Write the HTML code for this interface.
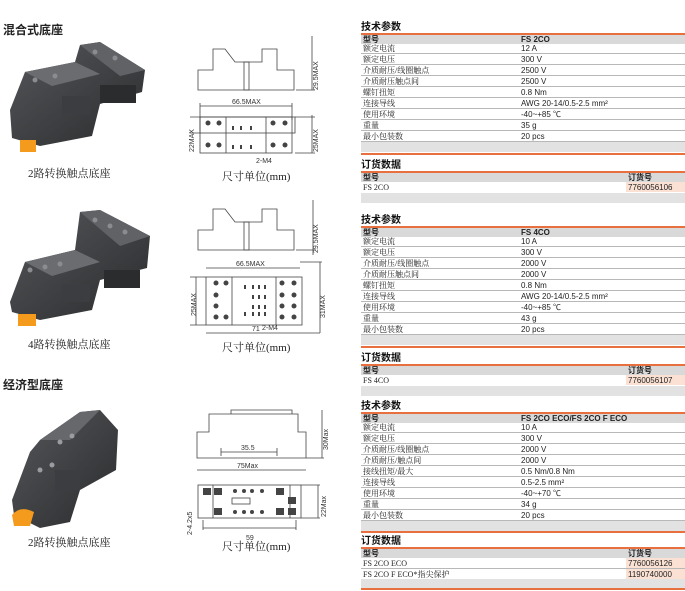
<!DOCTYPE html>
<html><head><meta charset="utf-8"><style>
*{margin:0;padding:0;box-sizing:border-box}
body{width:685px;height:591px;background:#fff;position:relative;overflow:hidden;font-family:"Liberation Sans","Noto Sans CJK SC",sans-serif;color:#222}
.a{position:absolute}
.t{position:absolute;left:361px;font-size:10px;font-weight:bold;line-height:10px;color:#111}
.ln{position:absolute;left:361px;width:324px;height:2px;background:#e8703f}
.r{position:absolute;left:361px;width:324px;height:11px;border-bottom:1px solid #b8b8b8;font-size:8px;line-height:11px}
.r span{position:absolute;left:2px;font-family:"Liberation Serif","Noto Serif CJK SC",serif}
.r b{position:absolute;left:160px;font-weight:normal}
.h{background:#d9d9d9;height:9px;border:none;font-weight:bold;line-height:9px}
.h span{font-family:"Liberation Sans","Noto Sans CJK SC",sans-serif}
.h b{font-weight:bold}
.g{position:absolute;left:361px;width:324px;height:10px;background:#e2e2e2}
.o b{left:267px}
.o i{position:absolute;left:265px;width:59px;top:0;height:10px;background:#fbe1d3}
.cap{position:absolute;font-family:"Liberation Serif","Noto Serif CJK SC",serif;font-size:11px}
.sec{position:absolute;left:3px;font-size:12px;font-weight:bold}
</style></head><body>

<div class="sec" style="top:21px">混合式底座</div>
<div class="sec" style="top:376px">经济型底座</div>

<svg class="a" style="left:0;top:0" width="360" height="591">
<defs>
<linearGradient id="gr" x1="0" y1="0" x2="1" y2="1"><stop offset="0" stop-color="#55575a"/><stop offset="1" stop-color="#2a2b2d"/></linearGradient>
</defs>
<g id="p1">
<path d="M10 110 L25 72 L75 62 L80 45 L100 42 L145 70 L142 92 L100 104 L92 136 L40 146 L12 138Z" fill="url(#gr)"/>
<path d="M25 72 L75 62 L100 74 L52 86Z" fill="#6a6c70"/>
<path d="M80 45 L100 42 L145 70 L120 76Z" fill="#606266"/>
<rect x="62" y="96" width="28" height="18" fill="#3c3d40"/>
<rect x="100" y="85" width="36" height="18" fill="#2b2c2e"/>
<g fill="#8a8c90"><circle cx="35" cy="80" r="2.5"/><circle cx="55" cy="76" r="2.5"/><circle cx="95" cy="52" r="2.5"/><circle cx="115" cy="58" r="2.5"/></g>
</g>
<g transform="translate(0 192)">
<path d="M10 110 L25 70 L75 58 L80 20 L100 18 L150 44 L147 76 L100 88 L92 118 L40 128 L12 120Z" fill="url(#gr)"/>
<path d="M25 70 L75 58 L100 70 L52 84Z" fill="#6a6c70"/>
<path d="M80 20 L100 18 L150 44 L120 54Z" fill="#606266"/>
<rect x="62" y="92" width="28" height="18" fill="#3c3d40"/>
<rect x="104" y="78" width="36" height="18" fill="#2b2c2e"/>
<g fill="#8a8c90"><circle cx="30" cy="78" r="2.5"/><circle cx="45" cy="75" r="2.5"/><circle cx="60" cy="72" r="2.5"/><circle cx="95" cy="28" r="2.5"/><circle cx="110" cy="34" r="2.5"/><circle cx="125" cy="40" r="2.5"/></g>
</g>
<path d="M12 500 L30 452 L40 440 L80 412 L100 410 L118 430 L116 470 L80 490 L70 522 L40 528 L14 515Z" fill="url(#gr)"/>
<path d="M40 440 L80 412 L100 410 L70 440Z" fill="#66686c"/>
<rect x="55" y="470" width="25" height="20" fill="#3c3d40"/>
<g fill="#9a9ca0"><circle cx="40" cy="470" r="2.5"/><circle cx="52" cy="465" r="2.5"/><circle cx="60" cy="442" r="2.5"/><circle cx="72" cy="436" r="2.5"/></g>
<g fill="#f49a1c"><rect x="20" y="140" width="16" height="12"/><rect x="18" y="314" width="18" height="12"/><path d="M12 515 Q20 505 34 512 L30 526 L14 526Z"/></g>
<g stroke="#444" stroke-width="0.8" fill="none">
<g id="d1t">
<path d="M198 70 H213 V49 H225 L235 62 H262 V49 H277 V70 H294 V90 H198Z"/>
<rect x="244" y="62" width="5" height="28"/>
</g>
<path d="M312 36 V90 M296 90 H315"/>
<rect x="200" y="117" width="95" height="16"/>
<path d="M200 106 H292 M200 103 V120 M292 103 V120"/>
<path d="M190 117 H200 M190 133 H200 M312 115 V153 M295 117 H315 M295 153 H315"/>
<rect x="200" y="117" width="92" height="36"/>
<path d="M226 117 V153 M266 117 V153"/>
<g fill="#444" stroke="none"><circle cx="208" cy="123" r="2.5"/><circle cx="219" cy="123" r="2.5"/><circle cx="208" cy="145" r="2.5"/><circle cx="219" cy="145" r="2.5"/><circle cx="273" cy="123" r="2.5"/><circle cx="285" cy="123" r="2.5"/><circle cx="273" cy="145" r="2.5"/><circle cx="285" cy="145" r="2.5"/>
<rect x="232" y="126" width="2" height="4"/><rect x="240" y="126" width="2" height="4"/><rect x="250" y="126" width="2" height="4"/><rect x="232" y="145" width="2" height="4"/><rect x="240" y="145" width="2" height="4"/><rect x="250" y="145" width="2" height="4"/></g>
<use href="#d1t" transform="translate(0 160)"/>
<path d="M313 200 V255 M296 250 H316"/>
<rect x="206" y="277" width="96" height="48"/>
<path d="M206 268 H300 M206 333 H320 M196 277 V325 M190 277 H206 M190 325 H206 M320 262 V333 M300 262 H322"/>
<path d="M232 277 V325 M276 277 V325"/>
<g fill="#444" stroke="none"><circle cx="216" cy="283" r="2.5"/><circle cx="226" cy="283" r="2.5"/><circle cx="216" cy="295" r="2.5"/><circle cx="216" cy="306" r="2.5"/><circle cx="216" cy="317" r="2.5"/><circle cx="226" cy="317" r="2.5"/><circle cx="282" cy="283" r="2.5"/><circle cx="294" cy="283" r="2.5"/><circle cx="282" cy="295" r="2.5"/><circle cx="294" cy="295" r="2.5"/><circle cx="282" cy="306" r="2.5"/><circle cx="294" cy="306" r="2.5"/><circle cx="282" cy="317" r="2.5"/><circle cx="294" cy="317" r="2.5"/>
<rect x="244" y="285" width="2" height="4"/><rect x="252" y="285" width="2" height="4"/><rect x="258" y="285" width="2" height="4"/><rect x="264" y="285" width="2" height="4"/><rect x="252" y="295" width="2" height="4"/><rect x="258" y="295" width="2" height="4"/><rect x="264" y="295" width="2" height="4"/><rect x="252" y="305" width="2" height="4"/><rect x="258" y="305" width="2" height="4"/><rect x="264" y="305" width="2" height="4"/><rect x="244" y="312" width="2" height="4"/><rect x="252" y="312" width="2" height="4"/><rect x="258" y="312" width="2" height="4"/><rect x="264" y="312" width="2" height="4"/></g>
<path d="M197 458 V432 H209 V414 H298 V432 H306 V458 Z"/>
<path d="M231 414 V410 H292 V414 M322 410 V458 M306 458 H324"/>
<path d="M221 452 H277 M221 448 V456 M277 448 V456 M197 470 H306"/>
<rect x="198" y="485" width="103" height="33"/>
<path d="M213 485 V518 M290 485 V518 M318 485 V518 M301 485 H320 M301 518 H320 M203 528 H296 M203 520 V530 M296 520 V530"/>
<g fill="#444" stroke="none"><rect x="203" y="488" width="8" height="7"/><rect x="214" y="488" width="8" height="7"/><rect x="214" y="508" width="8" height="7"/><rect x="276" y="488" width="8" height="7"/><rect x="288" y="497" width="8" height="7"/><rect x="276" y="508" width="8" height="7"/><rect x="288" y="508" width="8" height="7"/>
<circle cx="235" cy="491" r="2"/><circle cx="244" cy="491" r="2"/><circle cx="252" cy="491" r="2"/><circle cx="262" cy="491" r="2"/><circle cx="235" cy="512" r="2"/><circle cx="244" cy="512" r="2"/><circle cx="252" cy="512" r="2"/><circle cx="262" cy="512" r="2"/></g>
<rect x="232" y="498" width="18" height="6"/>
</g>
<g font-family="Liberation Sans" font-size="7" fill="#333">
<text x="232" y="104">66.5MAX</text><text x="256" y="163">2-M4</text>
<text x="236" y="266">66.5MAX</text><text x="262" y="330">2-M4</text><text x="252" y="331">71</text>
<text x="241" y="450">35.5</text><text x="237" y="468">75Max</text><text x="246" y="540">59</text>
<text transform="translate(318 90) rotate(-90)">29.5MAX</text>
<text transform="translate(194 152) rotate(-90)">22MAX</text>
<text transform="translate(318 152) rotate(-90)">25MAX</text>
<text transform="translate(318 253) rotate(-90)">29.5MAX</text>
<text transform="translate(196 316) rotate(-90)">25MAX</text>
<text transform="translate(325 318) rotate(-90)">31MAX</text>
<text transform="translate(328 450) rotate(-90)">30Max</text>
<text transform="translate(326 517) rotate(-90)">22Max</text>
<text transform="translate(192 535) rotate(-90)">2-4.2x5</text>
</g>
</svg>
<div class="cap" style="left:28px;top:165px">2路转换触点底座</div>
<div class="cap" style="left:28px;top:336px">4路转换触点底座</div>
<div class="cap" style="left:28px;top:534px">2路转换触点底座</div>
<div class="cap" style="left:222px;top:168px">尺寸单位(mm)</div>
<div class="cap" style="left:222px;top:339px">尺寸单位(mm)</div>
<div class="cap" style="left:222px;top:538px">尺寸单位(mm)</div>

<div class="t" style="top:23px">技术参数</div><div class="ln" style="top:33px"></div>
<div class="r h" style="top:35px"><span>型号</span><b>FS 2CO</b></div>
<div class="r" style="top:43px"><span>额定电流</span><b>12 A</b></div>
<div class="r" style="top:54px"><span>额定电压</span><b>300 V</b></div>
<div class="r" style="top:65px"><span>介质耐压/线圈触点</span><b>2500 V</b></div>
<div class="r" style="top:76px"><span>介质耐压触点间</span><b>2500 V</b></div>
<div class="r" style="top:87px"><span>螺钉扭矩</span><b>0.8 Nm</b></div>
<div class="r" style="top:98px"><span>连接导线</span><b>AWG 20-14/0.5-2.5 mm²</b></div>
<div class="r" style="top:109px"><span>使用环境</span><b>-40~+85 ℃</b></div>
<div class="r" style="top:120px"><span>重量</span><b>35 g</b></div>
<div class="r" style="top:131px"><span>最小包装数</span><b>20 pcs</b></div>
<div class="g" style="top:142px"></div><div class="ln" style="top:153px"></div>
<div class="t" style="top:161px">订货数据</div><div class="ln" style="top:171px"></div>
<div class="r h o" style="top:173px"><span>型号</span><b>订货号</b></div>
<div class="r o" style="top:182px;border:none"><span>FS 2CO</span><i></i><b>7760056106</b></div>
<div class="g" style="top:193px"></div>

<div class="t" style="top:216px">技术参数</div><div class="ln" style="top:226px"></div>
<div class="r h" style="top:228px"><span>型号</span><b>FS 4CO</b></div>
<div class="r" style="top:236px"><span>额定电流</span><b>10 A</b></div>
<div class="r" style="top:247px"><span>额定电压</span><b>300 V</b></div>
<div class="r" style="top:258px"><span>介质耐压/线圈触点</span><b>2000 V</b></div>
<div class="r" style="top:269px"><span>介质耐压触点间</span><b>2000 V</b></div>
<div class="r" style="top:280px"><span>螺钉扭矩</span><b>0.8 Nm</b></div>
<div class="r" style="top:291px"><span>连接导线</span><b>AWG 20-14/0.5-2.5 mm²</b></div>
<div class="r" style="top:302px"><span>使用环境</span><b>-40~+85 ℃</b></div>
<div class="r" style="top:313px"><span>重量</span><b>43 g</b></div>
<div class="r" style="top:324px"><span>最小包装数</span><b>20 pcs</b></div>
<div class="g" style="top:335px"></div><div class="ln" style="top:346px"></div>
<div class="t" style="top:354px">订货数据</div><div class="ln" style="top:364px"></div>
<div class="r h o" style="top:366px"><span>型号</span><b>订货号</b></div>
<div class="r o" style="top:375px;border:none"><span>FS 4CO</span><i></i><b>7760056107</b></div>
<div class="g" style="top:386px"></div>

<div class="t" style="top:402px">技术参数</div><div class="ln" style="top:412px"></div>
<div class="r h" style="top:414px"><span>型号</span><b>FS 2CO ECO/FS 2CO F ECO</b></div>
<div class="r" style="top:422px"><span>额定电流</span><b>10 A</b></div>
<div class="r" style="top:433px"><span>额定电压</span><b>300 V</b></div>
<div class="r" style="top:444px"><span>介质耐压/线圈触点</span><b>2000 V</b></div>
<div class="r" style="top:455px"><span>介质耐压/触点间</span><b>2000 V</b></div>
<div class="r" style="top:466px"><span>接线扭矩/最大</span><b>0.5 Nm/0.8 Nm</b></div>
<div class="r" style="top:477px"><span>连接导线</span><b>0.5-2.5 mm²</b></div>
<div class="r" style="top:488px"><span>使用环境</span><b>-40~+70 ℃</b></div>
<div class="r" style="top:499px"><span>重量</span><b>34 g</b></div>
<div class="r" style="top:510px"><span>最小包装数</span><b>20 pcs</b></div>
<div class="g" style="top:521px"></div><div class="ln" style="top:531px"></div>
<div class="t" style="top:537px">订货数据</div><div class="ln" style="top:547px"></div>
<div class="r h o" style="top:549px"><span>型号</span><b>订货号</b></div>
<div class="r o" style="top:558px"><span>FS 2CO ECO</span><i></i><b>7760056126</b></div>
<div class="r o" style="top:569px;border:none"><span>FS 2CO F ECO*指尖保护</span><i></i><b>1190740000</b></div>
<div class="g" style="top:579px"></div><div class="ln" style="top:588px"></div>
</body></html>
